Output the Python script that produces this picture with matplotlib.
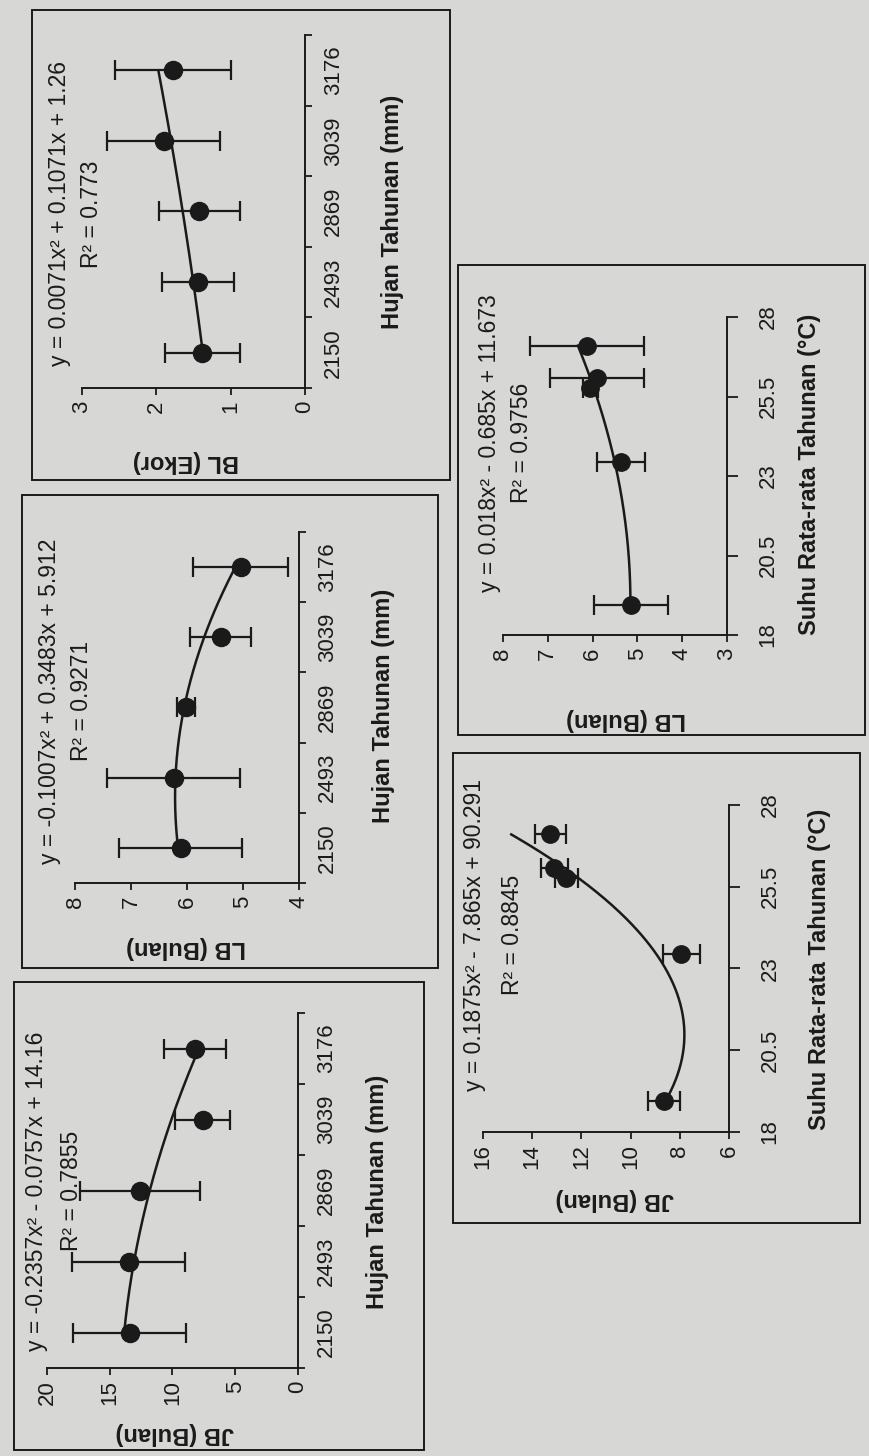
import numpy as np
import matplotlib
matplotlib.use("Agg")
import matplotlib.pyplot as plt
from matplotlib.patches import Rectangle

# ---------------- data ----------------
hujan_labels = ["2150", "2493", "2869", "3039", "3176"]
hujan_pos = [1, 2, 3, 4, 5]

jb_hujan_mean = [13.4, 13.5, 12.6, 7.6, 8.2]
jb_hujan_err = [4.5, 4.5, 4.8, 2.2, 2.5]
jb_hujan_coef = [-0.2357, -0.0757, 14.16]
jb_hujan_eq = "y = -0.2357x² - 0.0757x + 14.16"
jb_hujan_r2 = "R² = 0.7855"

lb_hujan_mean = [6.11, 6.24, 6.02, 5.40, 5.04]
lb_hujan_err = [1.10, 1.19, 0.16, 0.55, 0.85]
lb_hujan_coef = [-0.1007, 0.3483, 5.912]
lb_hujan_eq = "y = -0.1007x² + 0.3483x + 5.912"
lb_hujan_r2 = "R² = 0.9271"

bl_hujan_mean = [1.38, 1.44, 1.42, 1.90, 1.78]
bl_hujan_err = [0.51, 0.49, 0.55, 0.76, 0.78]
bl_hujan_coef = [0.0071, 0.1071, 1.26]
bl_hujan_eq = "y = 0.0071x² + 0.1071x + 1.26"
bl_hujan_r2 = "R² = 0.773"

suhu = [18.94, 23.45, 25.77, 26.07, 27.10]
suhu_ticks = [18, 20.5, 23, 25.5, 28]

jb_suhu_mean = [8.65, 7.94, 12.61, 13.10, 13.27]
jb_suhu_err = [0.65, 0.75, 0.48, 0.55, 0.63]
jb_suhu_coef = [0.1875, -7.865, 90.291]
jb_suhu_eq = "y = 0.1875x² - 7.865x + 90.291"
jb_suhu_r2 = "R² = 0.8845"

lb_suhu_mean = [5.14, 5.37, 6.05, 5.90, 6.12]
lb_suhu_err = [0.83, 0.54, 0.16, 1.04, 1.27]
lb_suhu_coef = [0.018, -0.685, 11.673]
lb_suhu_eq = "y = 0.018x² - 0.685x + 11.673"
lb_suhu_r2 = "R² = 0.9756"

jb_ticks = [0, 5, 10, 15, 20]
lb_ticks_h = [4, 5, 6, 7, 8]
bl_ticks = [0, 1, 2, 3]
jb_ticks_s = [6, 8, 10, 12, 14, 16]
lb_ticks_s = [3, 4, 5, 6, 7, 8]

title_hujan = "Hujan Tahunan (mm)"
title_suhu = "Suhu Rata-rata Tahunan (°C)"

# ---------------- style ----------------
plt.rcParams["font.family"] = ["Liberation Sans", "DejaVu Sans"]
BG = "#d7d7d5"
INK = "#1a1a1a"
W, H, DPI = 870, 1456, 100

fig = plt.figure(figsize=(W / DPI, H / DPI), dpi=DPI)
fig.patch.set_facecolor(BG)


def fx(px):
    return px / W


def fy(py):
    return 1 - py / H


def box(x0, y0, x1, y1):
    fig.patches.append(Rectangle((fx(x0), fy(y1)), fx(x1) - fx(x0), (y1 - y0) / H,
                                 transform=fig.transFigure, fill=False,
                                 edgecolor=INK, linewidth=1.4))


def make_axes(x0, y0, x1, y1):
    ax = fig.add_axes([fx(x0), fy(y1), fx(x1) - fx(x0), (y1 - y0) / H])
    ax.patch.set_alpha(0)
    for s in ("top", "left"):
        ax.spines[s].set_visible(False)
    for s in ("bottom", "right"):
        ax.spines[s].set_linewidth(1.4)
        ax.spines[s].set_color(INK)
    ax.yaxis.tick_right()
    ax.tick_params(axis="both", which="major", direction="out", length=5,
                   width=1.3, color=INK, labelcolor=INK, labelsize=16)
    ax.tick_params(axis="x", labelrotation=90, pad=4)
    return ax


def ftext(x, y, s, rot, size=16.5, weight="normal"):
    fig.text(fx(x), fy(y), s, rotation=rot, ha="center", va="center",
             fontsize=size, fontweight=weight, color=INK, rotation_mode="anchor")


def errs(ax, mean, pos, err, ms=13, cap=7.5):
    ax.errorbar(mean, pos, xerr=err, fmt="o", color=INK, ms=ms,
                elinewidth=1.6, capsize=cap, capthick=1.6, zorder=3)


def hujan_panel(bx, axb, mean, err, coef, ticks, xmax, eq, r2, eqx, r2x, tc,
                vtitle, vt_xy, ht_xy):
    box(*bx)
    ax = make_axes(*axb)
    ax.set_xlim(xmax, ticks[0])
    ax.set_ylim(0.5, 5.5)
    ax.set_xticks(ticks, [str(t) for t in ticks])
    ax.set_yticks(np.arange(0.5, 6.0, 1.0), [])
    ax.set_yticks(hujan_pos, hujan_labels, minor=True)
    ax.tick_params(axis="y", which="minor", length=0, pad=13, labelsize=16,
                   labelrotation=90, labelcolor=INK)
    for lab in ax.get_yticklabels(minor=True):
        lab.set_va("center")
        lab.set_ha("left")
    xs = np.linspace(hujan_pos[0], hujan_pos[-1], 200)
    ax.plot(np.polyval(coef, xs), xs, color=INK, lw=1.8, zorder=2)
    errs(ax, mean, hujan_pos, err)
    ftext(eqx, tc, eq, 90)
    ftext(r2x, tc, r2, 90)
    ftext(vt_xy[0], vt_xy[1], vtitle, 180, size=17, weight="bold")
    ftext(ht_xy[0], ht_xy[1], title_hujan, 90, size=17, weight="bold")
    return ax


def suhu_panel(bx, axb, mean, err, coef, ticks, eq, r2, eqx, r2x, tc,
               vtitle, vt_xy, ht_xy):
    box(*bx)
    ax = make_axes(*axb)
    ax.set_xlim(ticks[-1], ticks[0])
    ax.set_ylim(suhu_ticks[0], suhu_ticks[-1])
    ax.set_xticks(ticks, [str(t) for t in ticks])
    ax.set_yticks(suhu_ticks, [f"{t:g}" for t in suhu_ticks])
    ax.tick_params(axis="y", length=8, pad=14, labelrotation=90)
    for lab in ax.get_yticklabels():
        lab.set_va("center")
        lab.set_ha("left")
    xs = np.linspace(min(suhu), max(suhu), 200)
    ax.plot(np.polyval(coef, xs), xs, color=INK, lw=1.8, zorder=2)
    errs(ax, mean, suhu, err, ms=12.5, cap=7)
    ftext(eqx, tc, eq, 90)
    ftext(r2x, tc, r2, 90)
    ftext(vt_xy[0], vt_xy[1], vtitle, 180, size=17, weight="bold")
    ftext(ht_xy[0], ht_xy[1], title_suhu, 90, size=17, weight="bold")
    return ax


# Row 1 (rainfall)
hujan_panel((32, 10, 450, 480), (82, 35, 305, 388), bl_hujan_mean, bl_hujan_err,
            bl_hujan_coef, bl_ticks, 3, bl_hujan_eq, bl_hujan_r2, 60, 92, 214,
            "BL (Ekor)", (186, 462), (393, 212))
hujan_panel((22, 495, 438, 968), (75, 532, 299, 883), lb_hujan_mean, lb_hujan_err,
            lb_hujan_coef, lb_ticks_h, 8, lb_hujan_eq, lb_hujan_r2, 50, 82, 701,
            "LB (Bulan)", (186, 948), (384, 706))
hujan_panel((14, 982, 424, 1450), (47, 1013, 298, 1368), jb_hujan_mean, jb_hujan_err,
            jb_hujan_coef, jb_ticks, 20, jb_hujan_eq, jb_hujan_r2, 37, 72, 1191,
            "JB (Bulan)", (175, 1434), (378, 1192))

# Row 2 (temperature)
suhu_panel((458, 265, 865, 735), (503, 317, 727, 635), lb_suhu_mean, lb_suhu_err,
           lb_suhu_coef, lb_ticks_s, lb_suhu_eq, lb_suhu_r2, 490, 522, 443,
           "LB (Bulan)", (626, 720), (810, 474))
suhu_panel((453, 753, 860, 1223), (483, 805, 729, 1132), jb_suhu_mean, jb_suhu_err,
           jb_suhu_coef, jb_ticks_s, jb_suhu_eq, jb_suhu_r2, 475, 513, 935,
           "JB (Bulan)", (615, 1200), (820, 969))

fig.savefig("out.png", dpi=DPI, facecolor=BG)
